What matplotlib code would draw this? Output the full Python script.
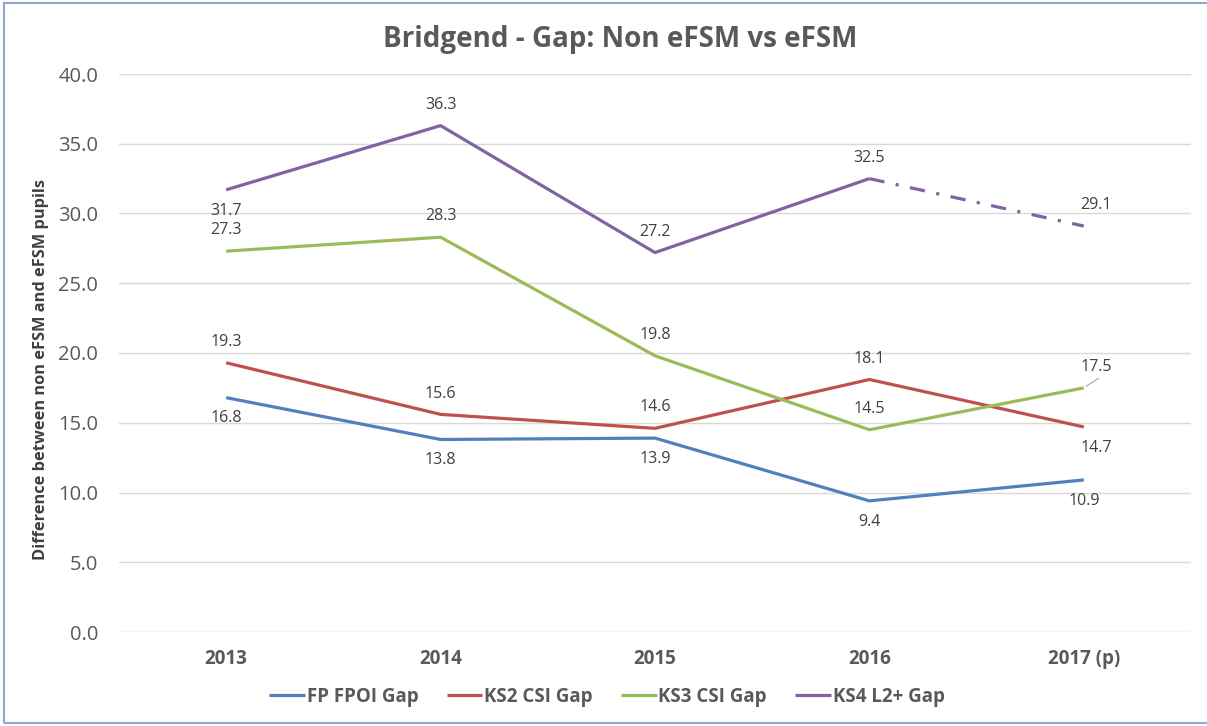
import matplotlib.pyplot as plt
from matplotlib.patches import Rectangle

years = ['2013', '2014', '2015', '2016', '2017 (p)']
fp_fpoi = [16.8, 13.8, 13.9, 9.4, 10.9]
ks2_csi = [19.3, 15.6, 14.6, 18.1, 14.7]
ks3_csi = [27.3, 28.3, 19.8, 14.5, 17.5]
ks4_l2 = [31.7, 36.3, 27.2, 32.5, 29.1]

names = ['FP FPOI Gap', 'KS2 CSI Gap', 'KS3 CSI Gap', 'KS4 L2+ Gap']
colors = ['#4F81BD', '#C0504D', '#9BBB59', '#8064A2']
# label side per series: +1 above, -1 below
sides = [[-1, -1, -1, -1, -1],
         [1, 1, 1, 1, -1],
         [1, 1, 1, 1, 1],
         [-1, 1, 1, 1, 1]]

txt = '#595959'
plt.rcParams['font.family'] = ['Open Sans', 'DejaVu Sans']

fig = plt.figure(figsize=(12.07, 7.26), dpi=100)
fig.patches.append(Rectangle((4/1207, 3/726), 1.0, 720/726, transform=fig.transFigure,
                             fill=False, ec='#8EA9D0', lw=1.5))
ax = fig.add_axes((119/1207, 1-632/726, 1072/1207, 558/726))

x = list(range(len(years)))
series = [fp_fpoi, ks2_csi, ks3_csi, ks4_l2]
for i, (s, c, nm) in enumerate(zip(series, colors, names)):
    if i == 3:
        ax.plot(x[:4], s[:4], color=c, lw=2.3, label=nm, solid_capstyle='butt')
        ax.plot(x[3:], s[3:], color=c, lw=2.3, ls=(0, (4.8, 3.6, 1, 3.6)), dash_capstyle='butt')
    else:
        ax.plot(x, s, color=c, lw=2.3, label=nm, solid_capstyle='butt')
    for j, v in enumerate(s):
        dx = 0
        if j == 4 and i in (1, 2, 3):
            dx = 9
        ax.annotate(f'{v:.1f}', (j, v), xytext=(dx, 15*sides[i][j]), textcoords='offset points',
                    ha='center', va='center', fontsize=11.5, color='#404040')
# leader line for 17.5
ax.annotate('', (4, ks3_csi[4]), xytext=(4.08, ks3_csi[4]+0.8),
            arrowprops=dict(arrowstyle='-', color='#A6A6A6', lw=0.8))

ax.set_xlim(-0.5, 4.5)
ax.set_ylim(0, 40)
ax.set_yticks([0, 5, 10, 15, 20, 25, 30, 35, 40])
ax.set_yticklabels([f'{t:.1f}' for t in ax.get_yticks()], fontsize=14.5, color=txt)
ax.set_xticks(x)
ax.set_xticklabels(years, fontsize=13.5, color=txt, fontweight='bold')
ax.tick_params(length=0, pad=12)
ax.tick_params(axis='y', pad=15)
ax.grid(axis='y', color='#D9D9D9', lw=1)
ax.set_axisbelow(True)
for sp in ax.spines.values():
    sp.set_visible(False)

ax.set_ylabel('Difference between non eFSM and eFSM pupils', fontsize=11.8, color='#404040',
              fontweight='bold')
ax.yaxis.set_label_coords(-70/1072, 0.47)
fig.text(620/1207, 1-40/726, 'Bridgend - Gap: Non eFSM vs eFSM', ha='center', va='center',
         fontsize=20, fontweight='bold', color=txt)

leg = fig.legend(loc='center', bbox_to_anchor=(607/1207, 1-697/726), ncol=4, frameon=False,
                 handlelength=1.9, handletextpad=0.1, columnspacing=1.5,
                 prop={'size': 13.5, 'weight': 'bold'})
for t in leg.get_texts():
    t.set_color(txt)

fig.savefig('out.png', dpi=100)
